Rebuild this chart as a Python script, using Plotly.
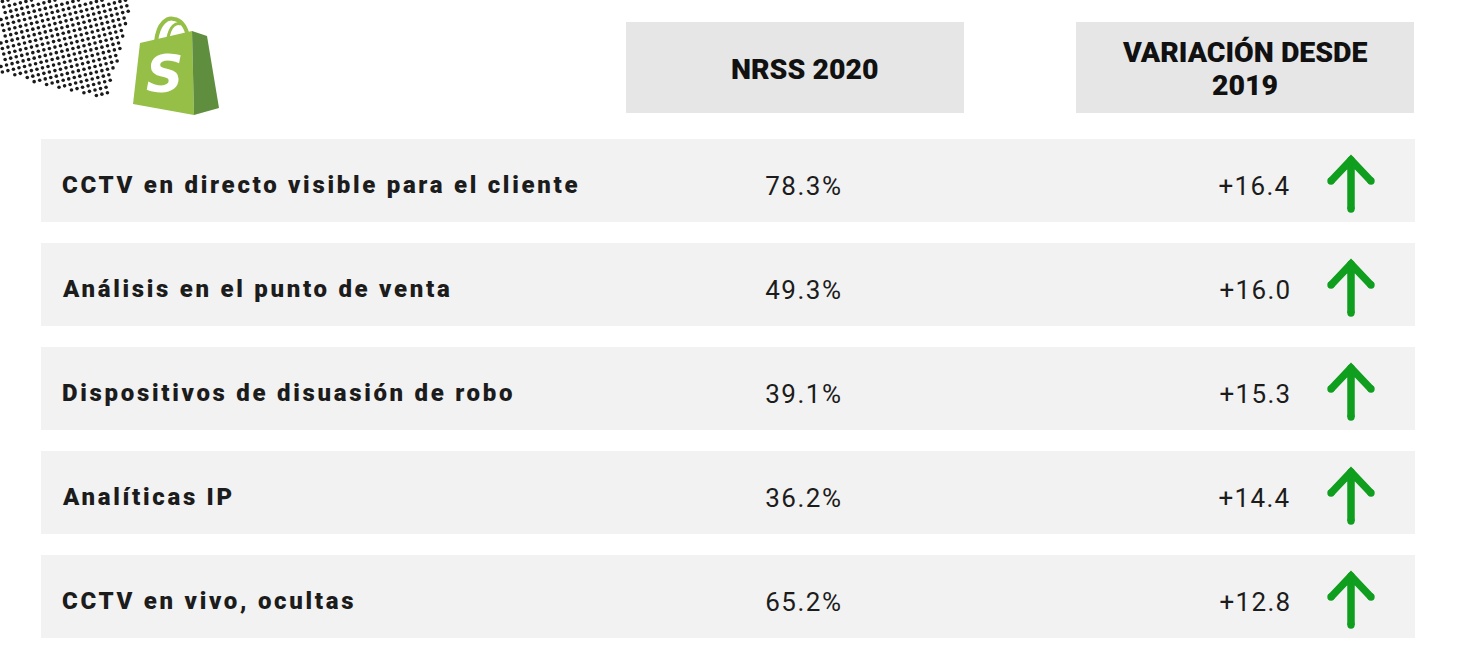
import json
import numpy as np
import plotly.graph_objects as go

# ---- data ----
categories = [
    "CCTV en directo visible para el cliente",
    "Análisis en el punto de venta",
    "Dispositivos de disuasión de robo",
    "Analíticas IP",
    "CCTV en vivo, ocultas",
]
nrss_2020 = [78.3, 49.3, 39.1, 36.2, 65.2]
change_since_2019 = [16.4, 16.0, 15.3, 14.4, 12.8]
header_labels = ["NRSS 2020", "VARIACIÓN DESDE<br>2019"]

W, H = 1464, 662
fig = go.Figure()
shapes = []
annotations = []
spacing = []  # letter-spacing per annotation (px)

TEXT = "#1c1c1c"
ROW_BG = "#f2f2f2"
HEAD_BG = "#e6e6e6"
GREEN = "#109e1e"


def add_ann(ls=0.0, **kw):
    annotations.append(dict(showarrow=False, **kw))
    spacing.append(ls)


# ---- header boxes ----
head_box = [(626, 964), (1076, 1414)]
head_text_x = [804, 1245]
for (x0, x1), tx, lab in zip(head_box, head_text_x, header_labels):
    shapes.append(dict(type="rect", x0=x0, x1=x1, y0=22, y1=113,
                       fillcolor=HEAD_BG, line_width=0, layer="below"))
    lines = lab.split("<br>")
    n = len(lines)
    for k, line in enumerate(lines):
        yy = 69 + (k - (n - 1) / 2) * 33
        add_ann(ls=0.0, x=tx, y=yy, text=line,
                xanchor="center", yanchor="middle",
                font=dict(family="Roboto, sans-serif", size=28.5, weight=900, color="#111111"))

# ---- rows ----
row_top0, row_h, pitch = 139, 83, 104
for i, (cat, v, c) in enumerate(zip(categories, nrss_2020, change_since_2019)):
    y0 = row_top0 + i * pitch
    y1 = y0 + row_h
    yc = (y0 + y1) / 2 + 4.5
    shapes.append(dict(type="rect", x0=41, x1=1415, y0=y0, y1=y1,
                       fillcolor=ROW_BG, line_width=0, layer="below"))
    add_ann(ls=2.7, x=60, y=yc, text=cat, align="left",
            xanchor="left", yanchor="middle",
            font=dict(family="Roboto, sans-serif", size=24, weight=900, color=TEXT))
    add_ann(ls=1.5, x=804, y=yc + 1, text=f"{v:.1f}%",
            xanchor="center", yanchor="middle",
            font=dict(family="Roboto, sans-serif", size=26, color=TEXT))
    add_ann(ls=1.3, x=1293, y=yc + 1, text=f"{c:+.1f}", align="right",
            xanchor="right", yanchor="middle",
            font=dict(family="Roboto, sans-serif", size=26, color=TEXT))
    # arrow (up for positive change)
    ax = 1351
    top, bot = y0 + 21, y0 + 70
    d = 1
    if c < 0:
        top, bot = bot, top
        d = -1
    path = (f"M {ax},{bot} L {ax},{top} "
            f"M {ax-20},{top + d*21} L {ax},{top} L {ax+20},{top + d*21}")
    shapes.append(dict(type="path", path=path, line=dict(color=GREEN, width=7.5)))
    for (px, py) in [(ax, bot), (ax - 20, top + d * 21), (ax + 20, top + d * 21), (ax, top)]:
        shapes.append(dict(type="circle", x0=px - 3.7, x1=px + 3.7, y0=py - 3.7, y1=py + 3.7,
                           fillcolor=GREEN, line_width=0))

# ---- halftone dot decoration (top-left) ----
ang = np.deg2rad(-14)
pts_x, pts_y = [], []
poly = np.array([(-2, -2), (134, -2), (107, 100), (-2, 73)])


def inside(px, py):
    n = len(poly)
    res = False
    j = n - 1
    for k in range(n):
        xi, yi = poly[k]
        xj, yj = poly[j]
        if ((yi > py) != (yj > py)) and (px < (xj - xi) * (py - yi) / (yj - yi + 1e-9) + xi):
            res = not res
        j = k
    return res


sp = 5.7
for a in range(-40, 40):
    for b in range(-40, 40):
        gx, gy = a * sp + 2, b * sp + 2
        px = gx * np.cos(ang) - gy * np.sin(ang)
        py = gx * np.sin(ang) + gy * np.cos(ang)
        if inside(px, py):
            pts_x.append(px)
            pts_y.append(py)
fig.add_trace(go.Scatter(x=pts_x, y=pts_y, mode="markers",
                         marker=dict(size=3.6, color="#1a1a1a", line_width=0),
                         hoverinfo="skip", showlegend=False, cliponaxis=False))

# ---- Shopify-like bag logo ----
LIGHT, DARK = "#95bf47", "#5e8e3e"
shapes.append(dict(type="path", path="M 140,43 L 192,31 L 194,115 L 133,104 Z",
                   fillcolor=LIGHT, line_width=0))
shapes.append(dict(type="path", path="M 192,31 L 207,36 L 219,108 L 194,115 Z",
                   fillcolor=DARK, line_width=0))
shapes.append(dict(type="path", path="M 156,42 C 158,22 168,17 174,19 C 182,20 186,28 188,36",
                   line=dict(color=LIGHT, width=4)))
shapes.append(dict(type="path", path="M 168,38 C 170,26 176,22 181,24",
                   line=dict(color=LIGHT, width=3)))
add_ann(ls=0.0, x=164, y=74, text="<b><i>S</i></b>",
        xanchor="center", yanchor="middle",
        font=dict(family="DejaVu Sans, sans-serif", size=52, color="white"))

fig.update_layout(
    width=W, height=H, margin=dict(l=0, r=0, t=0, b=0),
    paper_bgcolor="white", plot_bgcolor="white",
    xaxis=dict(range=[0, W], visible=False, fixedrange=True),
    yaxis=dict(range=[H, 0], visible=False, fixedrange=True),
    shapes=shapes, annotations=annotations, showlegend=False,
)

post = """
(function(){
  document.documentElement.style.margin = '0';
  document.body.style.margin = '0';
  document.body.style.overflow = 'hidden';
  var gd = document.getElementById('{plot_id}');
  var sp = %s;
  function apply(){
    gd.querySelectorAll('g.annotation').forEach(function(g){
      var idx = +g.getAttribute('data-index');
      var t = g.querySelector('text.annotation-text');
      if (t && sp[idx]) { t.style.letterSpacing = sp[idx] + 'px'; }
    });
  }
  apply();
  if (gd.on) gd.on('plotly_afterplot', apply);
  setTimeout(apply, 50);
})();
""" % json.dumps(spacing)

fig.write_html("out.html", post_script=post, config={"staticPlot": True})
